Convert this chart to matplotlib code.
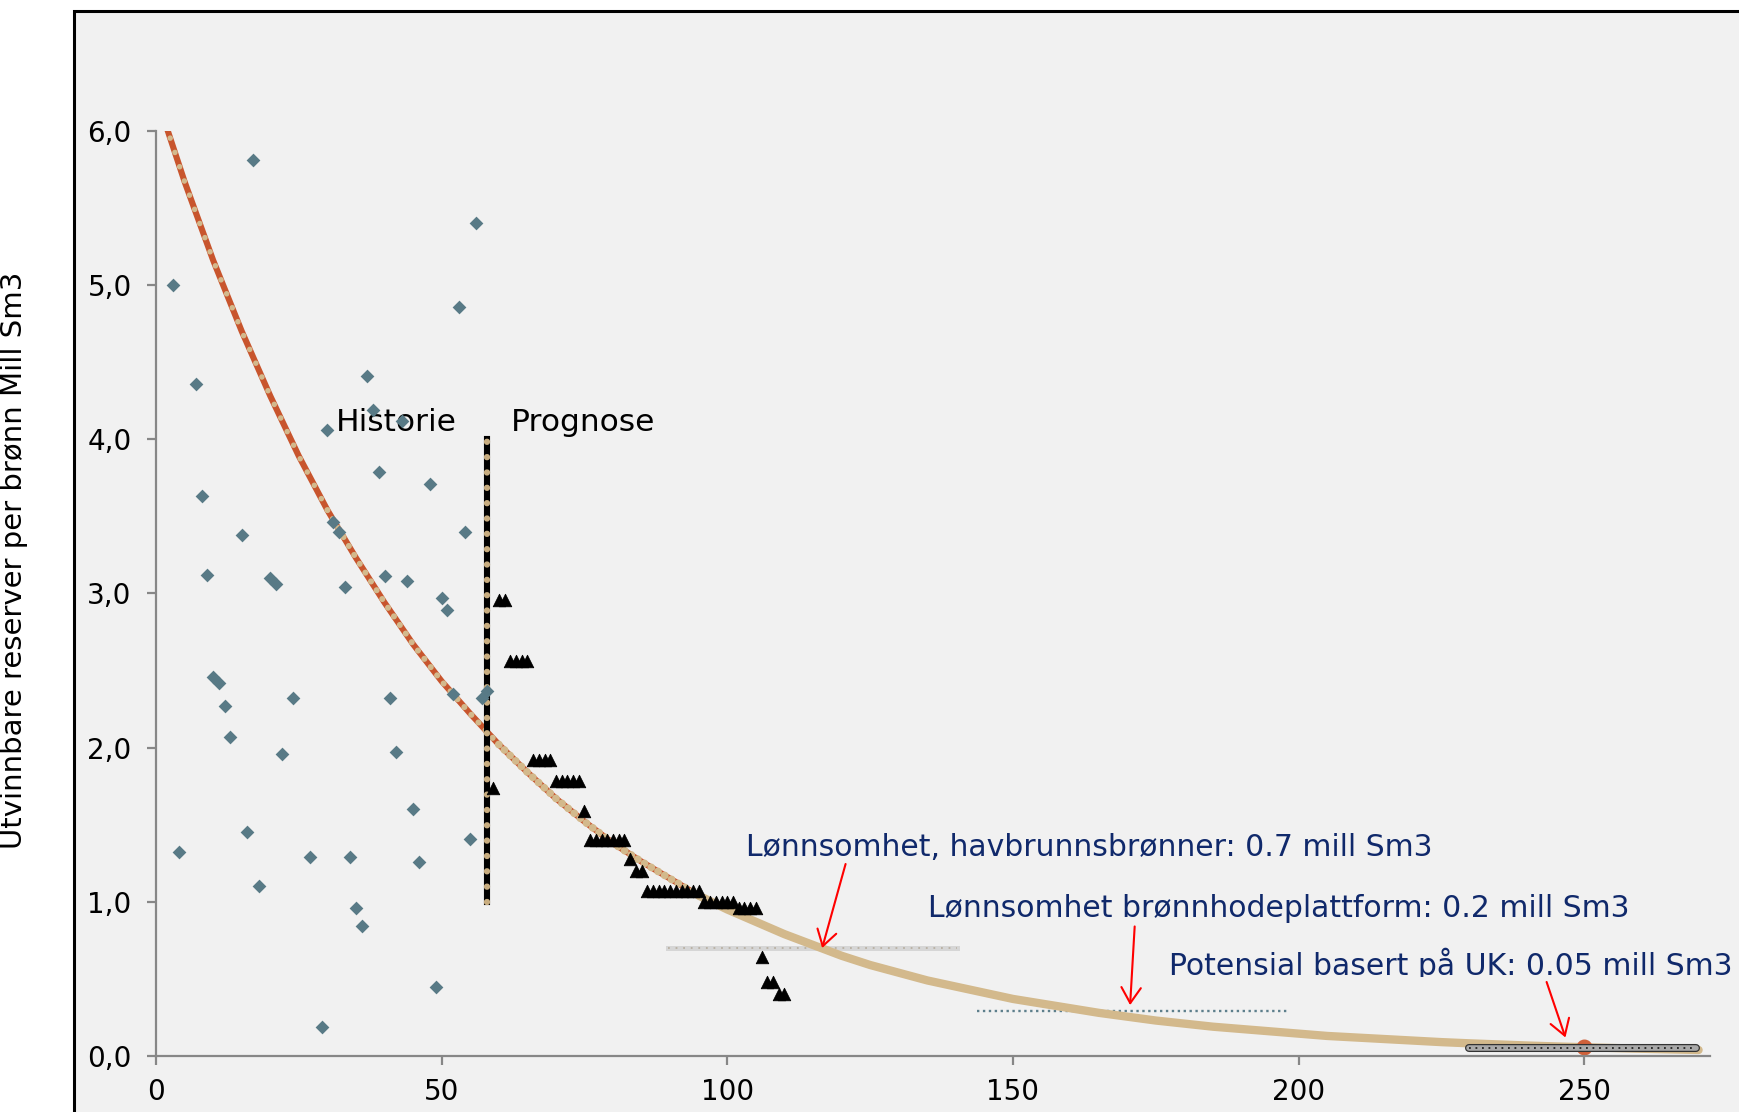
import matplotlib
matplotlib.use("Agg")
import matplotlib.pyplot as plt
from matplotlib.patches import Rectangle
from matplotlib.transforms import Bbox, TransformedBbox

# historical wells (diamonds)
hist_x = [3, 4, 7, 8, 9, 10, 11, 12, 13, 15, 16, 17, 18, 20, 21, 22, 24, 27, 29, 30,
          31, 32, 33, 34, 35, 36, 37, 38, 39, 40, 41, 42, 43, 44, 45, 46, 48, 49, 50, 51,
          52, 53, 54, 55, 56, 57, 58]
hist_y = [5.00, 1.32, 4.36, 3.63, 3.12, 2.46, 2.42, 2.27, 2.07, 3.38, 1.45, 5.81, 1.10, 3.10,
          3.06, 1.96, 2.32, 1.29, 0.19, 4.06, 3.46, 3.40, 3.04, 1.29, 0.96, 0.84, 4.41, 4.19,
          3.79, 3.11, 2.32, 1.97, 4.12, 3.08, 1.60, 1.26, 3.71, 0.45, 2.97, 2.89, 2.35, 4.86,
          3.40, 1.41, 5.40, 2.32, 2.37]

# prognosis wells (triangles)
prog_x = [59, 60, 61, 62, 63, 64, 65, 66, 67, 68, 69, 70, 71, 72, 73, 74, 75, 76, 77, 78,
          79, 80, 81, 82, 83, 84, 85, 86, 87, 88, 89, 90, 91, 92, 93, 94, 95, 96, 97, 98,
          99, 100, 101, 102, 103, 104, 105, 106, 107, 108, 109, 110]
prog_y = [1.74, 2.96, 2.96, 2.56, 2.56, 2.56, 2.56, 1.92, 1.92, 1.92, 1.92, 1.78, 1.78, 1.78,
          1.78, 1.78, 1.59, 1.40, 1.40, 1.40, 1.40, 1.40, 1.40, 1.40, 1.28, 1.20, 1.20, 1.07,
          1.07, 1.07, 1.07, 1.07, 1.07, 1.07, 1.07, 1.07, 1.07, 1.00, 1.00, 1.00, 1.00, 1.00,
          1.00, 0.96, 0.96, 0.96, 0.96, 0.64, 0.48, 0.48, 0.40, 0.40]

# trend curve, read every 5 wells
curve_x = [0, 5, 10, 15, 20, 25, 30, 35, 40, 45, 50, 55, 60, 65, 70, 75, 80, 85, 90, 95,
           100, 105, 110, 115, 120, 125, 130, 135, 140, 145, 150, 155, 160, 165, 170, 175,
           180, 185, 190, 195, 200, 205, 210, 215, 220, 225, 230, 235, 240, 245, 250, 255,
           260, 265, 270]
curve_y = [6.23, 5.67, 5.16, 4.70, 4.28, 3.89, 3.54, 3.23, 2.94, 2.67, 2.43, 2.22, 2.02,
           1.84, 1.67, 1.52, 1.38, 1.26, 1.15, 1.04, 0.95, 0.87, 0.79, 0.72, 0.65, 0.59,
           0.54, 0.49, 0.45, 0.41, 0.37, 0.34, 0.31, 0.28, 0.255, 0.23, 0.21, 0.19, 0.175,
           0.16, 0.145, 0.13, 0.12, 0.11, 0.10, 0.09, 0.082, 0.075, 0.068, 0.062, 0.057,
           0.052, 0.047, 0.043, 0.039]

# history / prognosis divider
divider_x = 58
divider_y = [1.0, 4.0]

# profitability levels: (level, x start, x end)
lvl_subsea = (0.70, 89.6, 140.2)
lvl_whp = (0.29, 143.7, 198.1)
lvl_uk = (0.05, 229.8, 269.5)
uk_point = (250, 0.06)

xticks = [0, 50, 100, 150, 200, 250]
yticks = [0, 1, 2, 3, 4, 5, 6]
ytick_labels = ["0,0", "1,0", "2,0", "3,0", "4,0", "5,0", "6,0"]

notes = [
    ("Lønnsomhet, havbrunnsbrønner: 0.7 mill Sm3", 103.3, 1.30, (120.7, 1.245), (116.6, 0.70)),
    ("Lønnsomhet brønnhodeplattform: 0.2 mill Sm3", 135.1, 0.90, (171.3, 0.84), (170.5, 0.33)),
    ("Potensial basert på UK: 0.05 mill Sm3", 177.3, 0.525, (243.4, 0.48), (246.7, 0.12)),
]

W, H = 1739, 1112
RED = "#c8552d"
TAN = "#d3b98c"
NAVY = "#10296b"
AXGRAY = "#878787"

fig = plt.figure(figsize=(W / 100, H / 100), dpi=100)
fig.patch.set_facecolor("white")
fig.patches.append(Rectangle((74 / W, -0.1), 2.0, 1 - 11 / H + 0.1, transform=fig.transFigure,
                             facecolor="#f1f1f1", edgecolor="black", linewidth=2.2, zorder=-10))

ax = fig.add_axes([156 / W, 56 / H, 1554 / W, 925.3 / H])
ax.set_facecolor("none")
ax.set_xlim(0, 272)
ax.set_ylim(0, 6)

# trend line: red line with tan dots on top (dots merge into a band where it flattens)
ax.plot(curve_x, curve_y, color=RED, lw=4.4, zorder=2, solid_capstyle="butt")
segs = [(0, 7, 4.0, 2.7), (6, 13, 4.4, 1.7), (12, 20, 5.6, 1.0)]
for a, b, w, gap in segs:
    ax.plot(curve_x[a:b], curve_y[a:b], color=TAN, lw=w, linestyle=(0, (0.01, gap)),
            dash_capstyle="round", zorder=2.1)
ax.plot(curve_x[19:], curve_y[19:], color=TAN, lw=6.0, zorder=2.1, solid_capstyle="round")

# divider
ax.plot([divider_x, divider_x], divider_y, color="black", lw=4.4, zorder=3)
ax.plot([divider_x, divider_x], divider_y, color="#c8ad80", lw=4.6,
        linestyle=(0, (0.001, 2.40)), dash_capstyle="round", zorder=3.1)

# level lines
y0, xa, xb = lvl_subsea
ax.plot([xa, xb], [y0, y0], color="#d6d6d6", lw=3.6, zorder=1.5)
ax.plot([xa, xb], [y0, y0], color="#b8b0a3", lw=1.3, linestyle=(0, (1, 3.2)), zorder=1.6)

y0, xa, xb = lvl_whp
ax.plot([xa, xb], [y0, y0], color="#5d7f8c", lw=1.7, linestyle=(0, (1, 1.5)), zorder=1.5)

ax.plot(*uk_point, marker="o", ms=10.5, color="#d0613a", zorder=2.5, clip_on=False)
y0, xa, xb = lvl_uk
ax.plot([xa, xb], [y0, y0], color="#333333", lw=5.8, zorder=2.6, solid_capstyle="round")
ax.plot([xa, xb], [y0, y0], color="#a9a9a9", lw=4.0, zorder=2.7, solid_capstyle="round")
ax.plot([xa, xb], [y0, y0], color="#222222", lw=1.3, linestyle=(0, (1, 2.6)), zorder=2.8)

# markers
ax.scatter(hist_x, hist_y, marker="D", s=7.0 ** 2, color="#587a86", linewidths=0, zorder=4)
ax.scatter(prog_x, prog_y, marker="^", s=9.0 ** 2, color="black", linewidths=0.6,
           edgecolors="black", zorder=5)

# text
ax.text(31.4, 4.05, "Historie", fontsize=22.5, ha="left", va="baseline")
ax.text(62.1, 4.05, "Prognose", fontsize=22.5, ha="left", va="baseline")

for txt, tx, ty, start, end in notes:
    t = ax.text(tx, ty, txt, fontsize=21.5, color=NAVY, ha="left", va="baseline", zorder=6)
    if txt.startswith("Potensial"):
        t.set_clip_box(TransformedBbox(Bbox([[150, 0.515], [400, 2]]), ax.transData))
        t.set_clip_on(True)
    ax.annotate("", xy=end, xytext=start,
                arrowprops=dict(arrowstyle="->, head_length=0.4, head_width=0.25",
                                color="red", lw=1.5, mutation_scale=28,
                                shrinkA=0, shrinkB=0), zorder=6)

# axes styling
for s in ["top", "right"]:
    ax.spines[s].set_visible(False)
for s in ["left", "bottom"]:
    ax.spines[s].set_color(AXGRAY)
    ax.spines[s].set_linewidth(1.6)
ax.set_xticks(xticks)
ax.set_xticklabels([str(v) for v in xticks])
ax.set_yticks(yticks)
ax.set_yticklabels(ytick_labels)
ax.tick_params(direction="out", length=6.5, width=1.6, color=AXGRAY, labelsize=20,
               labelcolor="black")
ax.tick_params(axis="x", pad=9)
ax.tick_params(axis="y", pad=11)
ax.set_ylabel("Utvinnbare reserver per brønn Mill Sm3", fontsize=21)
ax.yaxis.set_label_coords(-0.0824, 0.536)

fig.savefig("out.png", dpi=100)
